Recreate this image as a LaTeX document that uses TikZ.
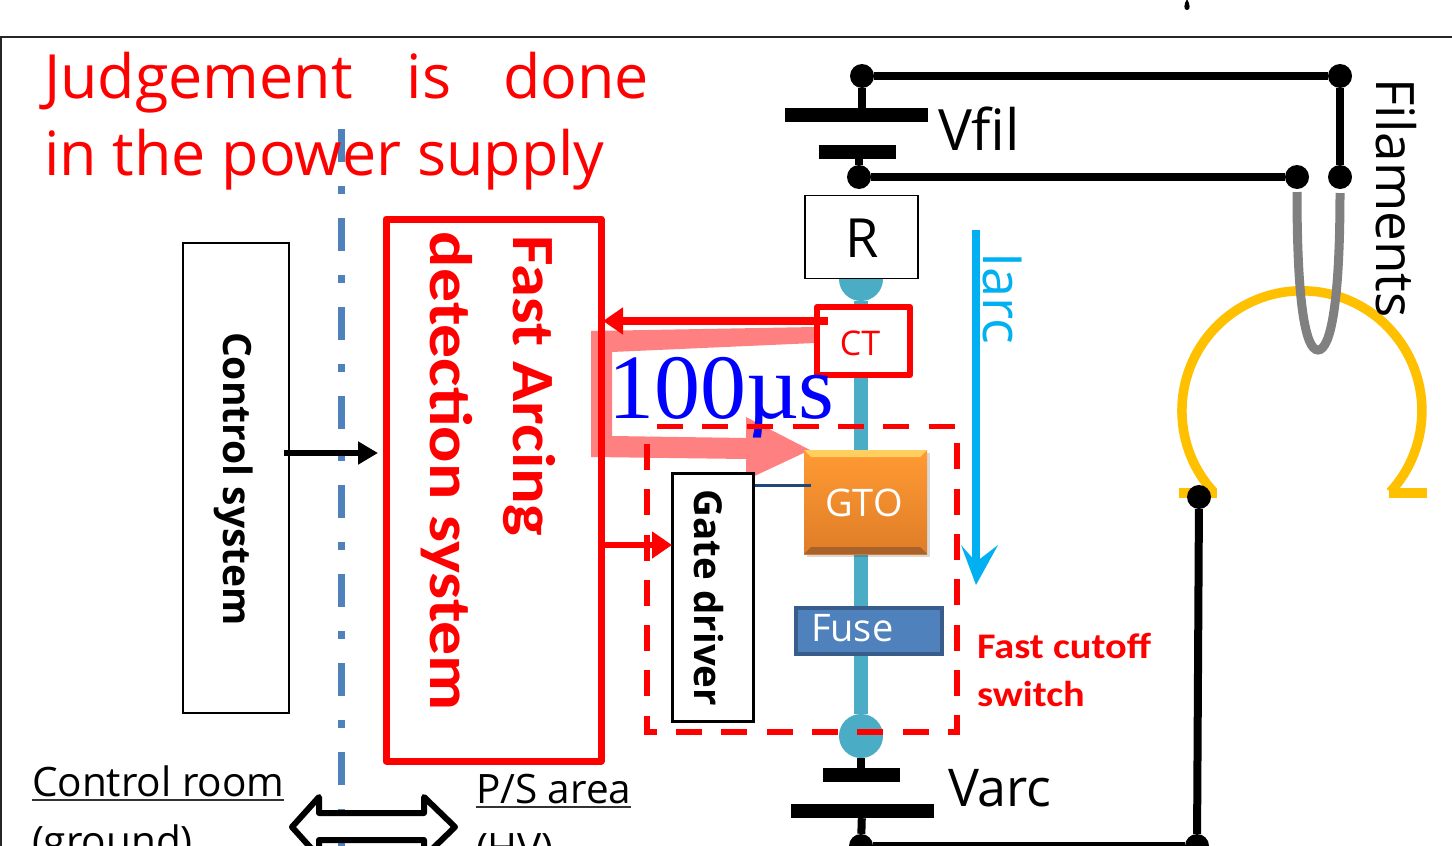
\documentclass[tikz,border=0pt]{standalone}
\usepackage{fontspec}
\usepackage{graphicx}
\setmainfont{Carlito}
\newfontfamily\tah{Open Sans}
\newfontfamily\tms{Liberation Serif}
\usetikzlibrary{arrows.meta,calc}
\definecolor{wire}{HTML}{4BACC6}
\definecolor{sep}{HTML}{4F81BD}
\definecolor{lred}{HTML}{FF8080}
\definecolor{cy}{HTML}{00B0F0}
\definecolor{amber}{HTML}{FFC000}
\definecolor{navy}{HTML}{1F497D}
\definecolor{gtoa}{HTML}{FF9A33}
\definecolor{gtob}{HTML}{DF7D28}
\definecolor{gtotop}{HTML}{FFD060}
\definecolor{gtobot}{HTML}{A8622A}
\definecolor{fuseb}{HTML}{385D8A}
\definecolor{filgray}{HTML}{808080}
\tikzset{
 bw/.style={draw=black,fill=white,line width=2.5pt,inner sep=0pt},
 rw/.style={draw=red,fill=white,line width=6pt,inner sep=0pt,line join=round},
 dot/.style={circle,fill=black,inner sep=0pt,minimum size=24pt},
 bdot/.style={circle,fill=wire,inner sep=0pt,minimum size=44pt},
 plate/.style={fill=black,inner sep=0pt},
 lab/.style={inner sep=0pt,outer sep=0pt},
 wblk/.style={draw=black,line width=8pt},
 wred/.style={draw=red,line width=7.5pt,-{Triangle[length=20pt,width=26pt]}},
 fs/.style={font=\fontsize{#1}{#1}\selectfont},
}
\begin{document}
\begin{tikzpicture}[x=1pt,y=-1pt]
\useasboundingbox (0,0) rectangle (1452,846);
\clip (0,0) rectangle (1452,846);
\fill[white] (0,0) rectangle (1452,846);
\draw[line width=1.8pt,black!85] (1452,37) -- (1,37) -- (1,846);
\fill[black] (1187,-1) .. controls (1184,4) and (1183,10) .. (1187,10) .. controls (1191,10) and (1190,4) .. (1187,-1) -- cycle;
% separator
\draw[sep,line width=7pt,dash pattern=on 33pt off 24pt on 8pt off 24pt] (341,129) -- (341,846);
% title
\node[lab,anchor=base west,text=red] (t1) at (44,98) {\tah\fontsize{61}{61}\selectfont Judgement\hspace{54pt}is\hspace{52pt}done};
\node[lab,anchor=base west,text=red] (t2) at (44,175) {\tah\fontsize{61}{61}\selectfont in the power supply};
% control
\node[bw,minimum width=106pt,minimum height=470pt] (ctl) at (236,478) {};
\node[lab,rotate=-90] (ctltxt) at (234,479) {\tah\bfseries\fontsize{39}{39}\selectfont Control system};
% pulse path
\fill[lred] (591,331) -- (815,327) -- (815,343) -- (612,352) -- (612,436) -- (746,438) -- (746,417) -- (810,450) -- (746,480) -- (746,459) -- (591,457) -- cycle;
% detection
\node[draw=red,line width=7pt,inner sep=0pt,minimum width=215pt,minimum height=542pt,line join=round] (fast) at (493.5,490) {};
\node[lab,rotate=-90,text=red,fs=60] (ft1) at (529,386) {\scalebox{1.11}[1]{\bfseries Fast Arcing}};
\node[lab,rotate=-90,text=red,fs=60] (ft2) at (447,471.5) {\scalebox{1.13}[1]{\bfseries detection system}};
\draw[black,line width=6pt,-{Triangle[length=20pt,width=22pt]}] (284,453) -- (378,453);
% main wire
\node[bdot] (topball) at (861,279) {};
\node[bdot] (botball) at (861,736) {};
\draw[wire,line width=14pt] (topball) -- (botball);
% batteries
\node[plate,minimum width=143pt,minimum height=14pt] (vf1) at (856,115) {};
\node[plate,minimum width=77pt,minimum height=14pt] (vf2) at (857,152) {};
\node[plate,minimum width=77pt,minimum height=14pt] (va1) at (861,775) {};
\node[plate,minimum width=143pt,minimum height=14pt] (va2) at (862,811) {};
\node[dot] (d1) at (862,76) {};
\node[dot] (d2) at (1340,76) {};
\node[dot] (d3) at (1340,177) {};
\node[dot] (d4) at (859,177) {};
\node[dot] (d5) at (1297,177) {};
\node[dot] (d7) at (861,846) {};
\node[dot] (d8) at (1197,846) {};
\draw[wblk] (d1) -- (d2) -- (d3);
\draw[wblk] (d4) -- (d5);
\draw[wblk] (d1) -- (d1 |- vf1);
\draw[wblk] (d4 |- vf2) -- (d4);
\draw[wblk] (botball) -- (va1);
\draw[wblk] (va2) -- (d7);
\draw[wblk] (d7) -- (d8);
% R
\node[draw=black,fill=white,line width=1.6pt,minimum width=113pt,minimum height=83pt,inner sep=0pt] (R) at (861.5,237) {};
\node[lab,fs=54] (Rt) at (862,238) {\tah R};
% filament + cathode
\draw[amber,line width=9.5pt] (1213.6,492) arc[start angle=137.4,end angle=402.6,radius=120];
\draw[amber,line width=10pt] (1179,492.5) -- (1217,492.5);
\draw[amber,line width=10pt] (1389,493) -- (1427,493);
\draw[filgray,line width=9pt] (1297,192) .. controls (1297,300) and (1305,350) .. (1318,350) .. controls (1331,350) and (1340,300) .. (1340,193);
\node[dot] (d6) at (1199,497) {};
\draw[wblk] (d8) -- (d6);
\node[lab,rotate=-90] (fil) at (1396,198) {\tah\fontsize{53}{53}\selectfont Filaments};
% CT
\node[rw,minimum width=93pt,minimum height=68pt] (ct) at (863.5,341) {};
\node[lab,text=red,fs=34] (ctt) at (860,343) {\tah CT};
\draw[wred] (828,321) -- (603,321);
\node[lab,anchor=base west,text=blue] (us) at (608,418) {\tms\fontsize{92}{92}\selectfont 100µs};
% gate
\node[bw,line width=3pt,minimum width=81pt,minimum height=248pt] (gd) at (712.5,597) {};
\node[lab,rotate=-90] (gdt) at (709,598) {\tah\bfseries\fontsize{38.5}{38.5}\selectfont Gate driver};
\draw[draw=red,line width=6pt,-{Triangle[length=20pt,width=26pt]}] (601,545) -- (672,545);
% GTO
\fill[black,opacity=.15] (807,453) rectangle (930,557);
\node[inner sep=0pt,minimum width=123pt,minimum height=104pt,top color=gtoa,bottom color=gtob] (gto) at (865.5,502) {};
\fill[gtotop] (804,450) -- (927,450) -- (920,457) -- (811,457) -- cycle;
\fill[gtobot] (804,554) -- (927,554) -- (920,547) -- (811,547) -- cycle;
\node[lab,text=white,fs=38] (gtot) at (864,503) {\tah GTO};
\draw[navy,line width=3pt] (gd.east |- 0,485.5) -- (811,485.5);
% Fuse
\node[draw=fuseb,fill=sep,line width=4pt,minimum width=146pt,minimum height=46pt,inner sep=0pt] (fuse) at (869,631) {};
\node[lab,text=white,fs=38,anchor=base west] (fuset) at (811,641) {\tah Fuse};
% dashed
\draw[red,line width=5.5pt,dash pattern=on 26pt off 19.3pt,dash phase=35.5pt] (647,426.5) -- (957,426.5) -- (957,732) -- (647,732) -- cycle;
\node[lab,text=red,anchor=base west,fs=36] (fc1) at (977,658) {\scalebox{1.12}[1]{\bfseries Fast cutoff}};
\node[lab,text=red,anchor=base west,fs=36] (fc2) at (977,706) {\scalebox{1.12}[1]{\bfseries switch}};
% Iarc
\draw[cy,line width=8pt] (976,230) -- (976,565);
\fill[cy] (976,585) -- (998,545) -- (976,562) -- (961,545) -- cycle;
\node[lab,rotate=-90,text=cy,fs=54] (ia) at (1003,298) {\tah Iarc};
% labels
\node[lab,anchor=base west,fs=57] (vfil) at (938,150) {\tah Vfil};
\node[lab,anchor=base west,fs=52] (varc) at (948,806) {\tah Varc};
\node[lab,anchor=base west] (cr) at (32,796) {\tah\fontsize{40.5}{40.5}\selectfont Control room};
\node[lab,anchor=base west] (gr) at (32,855) {\tah\fontsize{40.5}{40.5}\selectfont (ground)};
\node[lab,anchor=base west] (ps) at (476,803) {\tah\fontsize{40.5}{40.5}\selectfont P/S area};
\node[lab,anchor=base west] (hv) at (476,862) {\tah\fontsize{40.5}{40.5}\selectfont (HV)};
\draw[black!80,line width=1.8pt] (32,800) -- (284,800);
\draw[black!80,line width=1.8pt] (476,807) -- (631,807);
\draw[black,fill=white,line width=6pt,line join=round] (292,827) -- (319,797) -- (319,813) -- (424,813) -- (424,797) -- (455,827) -- (424,857) -- (424,840) -- (319,840) -- (319,857) -- cycle;
\end{tikzpicture}
\end{document}
